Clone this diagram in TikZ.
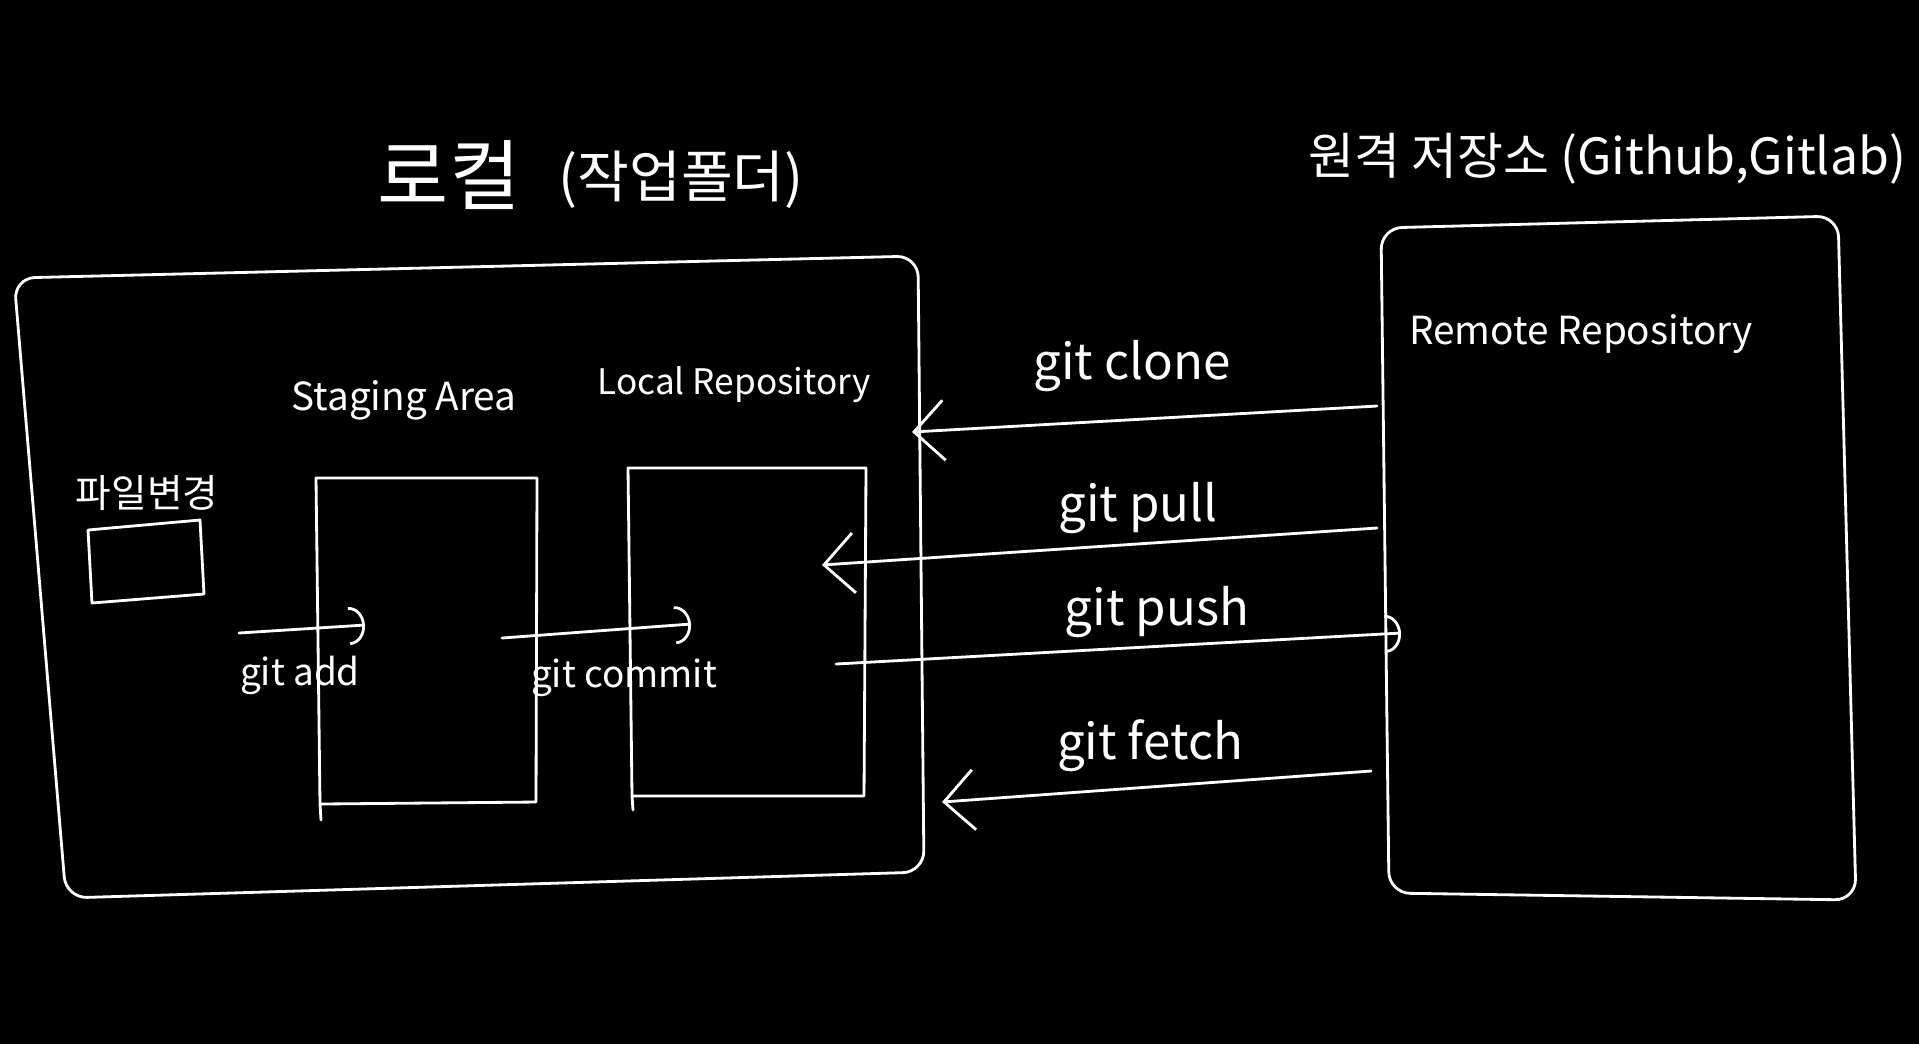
\documentclass[tikz,border=0pt]{standalone}
\usepackage{fontspec}
\setmainfont{Noto Sans CJK KR}
\usetikzlibrary{arrows.meta}

\tikzset{
  chalk/.style={white, line width=0.8pt, line cap=round, line join=round},
  bigtip/.style={chalk, -{Straight Barb[length=3mm,width=6mm]}},
  smalltip/.style={chalk, -{Arc Barb[length=1.6mm,width=3.8mm]}},
  cmdlabel/.style={text=white, font=\fontsize{14}{16}\selectfont},
  smalllabel/.style={text=white, font=\fontsize{10.5}{12}\selectfont},
  boxlabel/.style={text=white, font=\fontsize{11}{13}\selectfont},
}

\begin{document}
\begin{tikzpicture}[x=0.01cm, y=-0.01cm]
    % background
    \fill[black] (0,0) rectangle (1919,1044);

    % titles
    \node[text=white, font=\fontsize{22}{24}\selectfont] (localtitle) at (449,175) {로컬};
    \node[text=white, font=\fontsize{16}{18}\selectfont] (localsub) at (681,180) {(작업폴더)};
    \node[text=white, font=\fontsize{14.2}{16}\selectfont] (remotetitle) at (1607,159) {원격 저장소 (Github,Gitlab)};

    % local box
    \draw[chalk, rounded corners=6] (14,278) -- (918,256) -- (924,872) -- (66,898) -- cycle;

    % changed files
    \node[boxlabel] (changelabel) at (147,493) {파일변경};
    \draw[chalk] (88,530) -- (200,520) -- (204,594) -- (92,603) -- cycle;

    % staging area
    \node[boxlabel] (staginglabel) at (404,400) {Staging Area};
    \draw[chalk] (316,478) -- (537,478) -- (536,802) -- (320,804) -- cycle;
    \draw[chalk] (320,804) -- (321,820);

    % local repository
    \node[text=white, font=\fontsize{10}{12}\selectfont] (locallabel) at (734,385) {Local Repository};
    \draw[chalk] (628,468) -- (866,468) -- (864,796) -- (632,796) -- cycle;
    \draw[chalk] (632,796) -- (633,810);

    % remote repository
    \draw[chalk, rounded corners=6] (1381,228) -- (1838,216) -- (1856,900) -- (1389,893) -- cycle;
    \node[boxlabel] (remotelabel) at (1581,334) {Remote Repository};

    % arrow ends
    \coordinate (addS) at (239,633);
    \coordinate (addE) at (365,625);
    \coordinate (commitS) at (502,638);
    \coordinate (commitE) at (691,624);
    \coordinate (cloneS) at (1377,406);
    \coordinate (cloneE) at (912,432);
    \coordinate (pullS) at (1377,528);
    \coordinate (pullE) at (822,565);
    \coordinate (pushS) at (836,664);
    \coordinate (pushE) at (1401,633);
    \coordinate (fetchS) at (1371,771);
    \coordinate (fetchE) at (942,802);

    % local commands
    \draw[smalltip] (addS) -- (addE);
    \node[smalllabel] (addlabel) at (300,675) {git add};
    \draw[smalltip] (commitS) -- (commitE);
    \node[smalllabel] (commitlabel) at (624,678) {git commit};

    % remote commands
    \draw[bigtip] (cloneS) -- (cloneE);
    \node[cmdlabel] (clonelabel) at (1132,366) {git clone};
    \draw[bigtip] (pullS) -- (pullE);
    \node[cmdlabel] (pulllabel) at (1138,508) {git pull};
    \draw[smalltip] (pushS) -- (pushE);
    \node[cmdlabel] (pushlabel) at (1157,612) {git push};
    \draw[bigtip] (fetchS) -- (fetchE);
    \node[cmdlabel] (fetchlabel) at (1150,746) {git fetch};
\end{tikzpicture}
\end{document}
